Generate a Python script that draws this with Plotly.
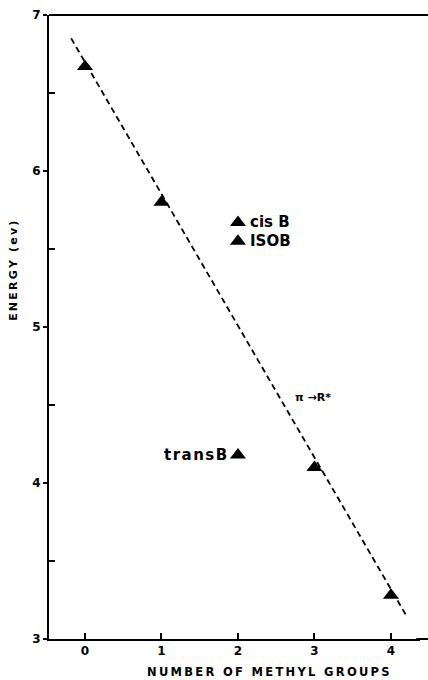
import plotly.graph_objects as go

# data
methyl_groups = [0, 1, 3, 4]
energy = [6.67, 5.80, 4.10, 3.28]
butene_x = [2, 2, 2]
butene_y = [5.67, 5.55, 4.18]
butene_labels = ["cis B", "ISOB", "transB"]
fit_x = [-0.18, 4.2]
fit_y = [6.85, 3.15]
x_ticks = [0, 1, 2, 3, 4]
y_ticks = [3, 4, 5, 6, 7]
y_minor_ticks = [3.5, 4.5, 5.5, 6.5]

FONT = "DejaVu Sans"

def spaced(s, sep="\u2009"):
    return sep.join(list(s))

fig = go.Figure()
fig.add_trace(go.Scatter(x=fit_x, y=fit_y, mode="lines",
                         line=dict(color="black", width=1.8, dash="6px,4px"),
                         showlegend=False, hoverinfo="skip"))
fig.add_trace(go.Scatter(x=methyl_groups, y=energy, mode="markers",
                         marker=dict(symbol="triangle-up", size=14, color="black"),
                         showlegend=False))
fig.add_trace(go.Scatter(x=butene_x, y=butene_y, mode="markers",
                         marker=dict(symbol="triangle-up", size=14, color="black"),
                         showlegend=False))

annotations = []
for xv, yv, lab in zip(butene_x, butene_y, butene_labels):
    if lab == "transB":
        annotations.append(dict(x=xv, y=yv, xref="x", yref="y", text="<b>" + spaced(lab, "\u200a") + "</b>",
                                showarrow=False, xanchor="right", xshift=-9,
                                font=dict(family=FONT, size=15, color="black")))
    else:
        annotations.append(dict(x=xv, y=yv, xref="x", yref="y", text="<b>" + lab + "</b>",
                                showarrow=False, xanchor="left", xshift=10,
                                font=dict(family=FONT, size=15, color="black")))
annotations.append(dict(x=2.98, y=4.55, xref="x", yref="y", text="<b>π \u2192R*</b>",
                        showarrow=False, font=dict(family=FONT, size=11, color="black")))

# plot area: left 49px, right margin 8px -> 371px wide
PW = 428 - 49 - 8
ext = 1 + 8 / PW
annotations.append(dict(x=(268 - 49) / PW, y=-0.0525, xref="paper", yref="paper",
                        text="<b>" + spaced("NUMBER OF METHYL GROUPS", "\u2009") + "</b>",
                        showarrow=False, yanchor="middle",
                        font=dict(family=FONT, size=11.5, color="black")))
annotations.append(dict(x=(14 - 49) / PW, y=0.59, xref="paper", yref="paper",
                        text="<b>" + spaced("ENERGY (ev)", "\u2009") + "</b>", textangle=-90,
                        showarrow=False, xanchor="center", yanchor="middle",
                        font=dict(family=FONT, size=11, color="black")))

fig.update_layout(
    width=428, height=680,
    margin=dict(l=49, r=8, t=10, b=41, pad=0),
    plot_bgcolor="white", paper_bgcolor="white",
    annotations=annotations,
    shapes=[dict(type="line", xref="paper", yref="paper", x0=0, x1=ext, y0=1, y1=1,
                 line=dict(color="black", width=2)),
            dict(type="line", xref="paper", yref="paper", x0=0.99, x1=ext, y0=0, y1=0,
                 line=dict(color="black", width=2))],
    xaxis=dict(range=[-0.47, -0.47 + PW / 76.5], tickvals=x_ticks, ticktext=[str(v) for v in x_ticks],
               ticks="inside", ticklen=6, tickwidth=1.5, tickcolor="black",
               showline=True, linecolor="black", linewidth=2, mirror=False,
               showgrid=False, zeroline=False,
               tickfont=dict(family=FONT, size=12, color="black", weight="bold")),
    yaxis=dict(range=[3, 7], tickvals=y_ticks, ticktext=[str(v) for v in y_ticks],
               ticks="outside", ticklen=4, tickwidth=1.5, tickcolor="black",
               minor=dict(tickvals=y_minor_ticks, ticks="inside", ticklen=6, tickwidth=1.5,
                          tickcolor="black", showgrid=False),
               showline=True, linecolor="black", linewidth=2, mirror=False,
               showgrid=False, zeroline=False,
               tickfont=dict(family=FONT, size=12, color="black", weight="bold")),
)

fig.write_html("out.html")
